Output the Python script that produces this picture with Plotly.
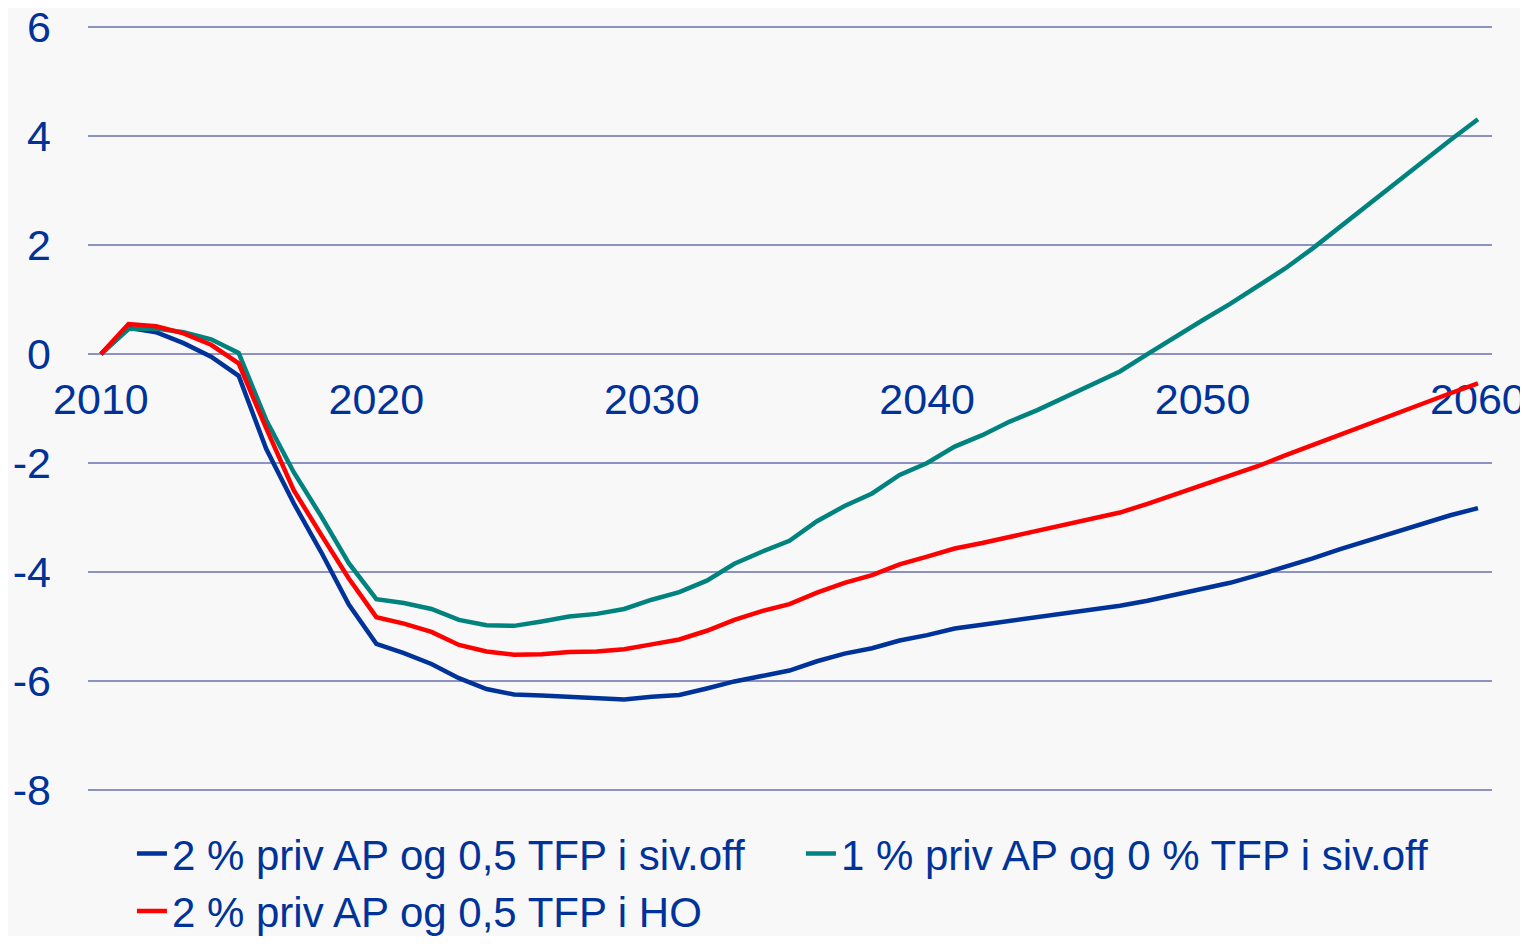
import plotly.graph_objects as go

years = list(range(2010, 2061))

blue_vals = [0, 0.48, 0.40, 0.20, -0.05, -0.40, -1.74, -2.74, -3.64, -4.60,
             -5.32, -5.49, -5.69, -5.95, -6.15, -6.25, -6.27, -6.29, -6.33, -6.34,
             -6.29, -6.26, -6.14, -6.01, -5.91, -5.81, -5.64, -5.50, -5.40, -5.26,
             -5.16, -5.04, -4.97, -4.90, -4.84, -4.76, -4.70, -4.62, -4.53, -4.42,
             -4.31, -4.20, -4.06, -3.91, -3.75, -3.58, -3.42, -3.26, -3.11, -2.96,
             -2.83]

teal_vals = [0, 0.46, 0.47, 0.40, 0.27, 0.02, -1.21, -2.17, -2.98, -3.84,
             -4.50, -4.57, -4.68, -4.88, -4.98, -4.99, -4.91, -4.82, -4.77, -4.68,
             -4.51, -4.37, -4.16, -3.85, -3.63, -3.43, -3.07, -2.79, -2.56, -2.22,
             -2.00, -1.70, -1.49, -1.24, -1.03, -0.79, -0.57, -0.32, 0.00, 0.32,
             0.62, 0.92, 1.24, 1.57, 1.94, 2.34, 2.73, 3.13, 3.53, 3.93,
             4.31]

red_vals = [0, 0.55, 0.51, 0.38, 0.17, -0.17, -1.36, -2.50, -3.32, -4.12,
            -4.83, -4.95, -5.10, -5.34, -5.46, -5.52, -5.51, -5.47, -5.46, -5.42,
            -5.33, -5.24, -5.08, -4.88, -4.72, -4.59, -4.38, -4.20, -4.06, -3.86,
            -3.72, -3.57, -3.47, -3.36, -3.25, -3.14, -3.03, -2.91, -2.75, -2.58,
            -2.41, -2.24, -2.06, -1.86, -1.67, -1.47, -1.27, -1.09, -0.91, -0.72,
            -0.54]

series = [
    ("2 % priv AP og 0,5 TFP i siv.off", blue_vals, "#003399"),
    ("1 % priv AP og 0 % TFP i siv.off", teal_vals, "#00827F"),
    ("2 % priv AP og 0,5 TFP i HO", red_vals, "#FF0000"),
]

x_ticks = [2010, 2020, 2030, 2040, 2050, 2060]
y_ticks = [-8, -6, -4, -2, 0, 2, 4, 6]
y_ticktext = ["-8", "-6", "-4", "-2", "0", "2", "4", "6"]

text_color = "#003399"
font_family = "Liberation Sans, Arial, sans-serif"

# small pad so the -8 and 6 gridlines are not clipped at the plot edges
y_pad = 0.04

fig = go.Figure()
for name, vals, color in series:
    fig.add_trace(go.Scatter(
        x=years, y=vals, name=name, mode="lines",
        line=dict(color=color, width=4.5),
    ))

fig.update_layout(
    width=1520, height=928,
    paper_bgcolor="#F8F8F8",
    plot_bgcolor="#F8F8F8",
    margin=dict(l=80, r=36, t=17, b=144, autoexpand=False),
    font=dict(family=font_family, color=text_color, size=43),
    legend=dict(
        orientation="h",
        x=0.0313, xanchor="left",
        y=-0.036, yanchor="top",
        font=dict(size=42, color=text_color),
        bgcolor="rgba(0,0,0,0)",
        entrywidth=624, entrywidthmode="pixels",
        tracegroupgap=0,
    ),
)

fig.update_xaxes(
    range=[2009.53, 2060.51],
    tickvals=x_ticks,
    ticktext=[str(t) for t in x_ticks],
    showgrid=False,
    zeroline=False,
    showline=False,
    automargin=False,
    anchor="free",
    position=(8 + y_pad) / (14 + 2 * y_pad),
    ticklabelstandoff=16,
    ticklabeloverflow="allow",
    layer="below traces",
    tickfont=dict(size=43, color=text_color),
)

fig.update_yaxes(
    range=[-8 - y_pad, 6 + y_pad],
    tickvals=y_ticks,
    ticktext=y_ticktext,
    showgrid=True,
    gridcolor="#8C93C0",
    gridwidth=2,
    zeroline=False,
    showline=False,
    automargin=False,
    ticklabelstandoff=36,
    ticklabeloverflow="allow",
    tickfont=dict(size=43, color=text_color),
)

fig.write_html("out.html")
